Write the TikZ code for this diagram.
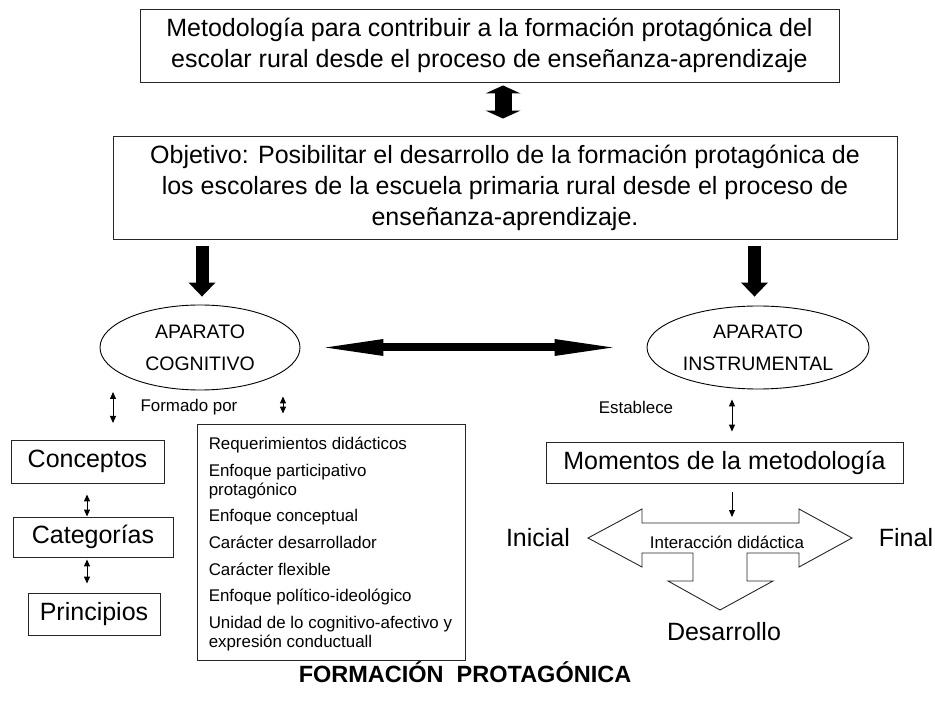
\documentclass[tikz,border=0pt]{standalone}
\usepackage{fontspec}
\setmainfont{Liberation Sans}
\usetikzlibrary{shapes.geometric,arrows.meta,calc}
\tikzset{
  box/.style={draw=black!85, line width=0.9pt, inner sep=0pt, align=center},
  bigtxt/.style={font=\fontsize{25}{31}\selectfont},
  midtxt/.style={font=\fontsize{19.5}{32}\selectfont},
  smalltxt/.style={font=\fontsize{16.9}{19}\selectfont},
  oval/.style={ellipse, draw, line width=0.9pt, inner sep=0pt, minimum width=222pt, minimum height=83pt, align=center, midtxt},
  thinarrow/.style={line width=1pt, {Triangle[width=6pt,length=7pt]}-{Triangle[width=6pt,length=7pt]}},
  thindown/.style={line width=1pt, -{Triangle[width=6pt,length=7pt]}},
  fatdown/.style={line width=13pt, -{Triangle[width=27pt,length=14pt,line width=0pt]}},
  fatboth/.style={line width=17pt, {Triangle[width=35pt,length=8pt,line width=0pt]}-{Triangle[width=35pt,length=8pt,line width=0pt]}},
  longboth/.style={line width=8pt, {Triangle[width=17pt,length=58pt,line width=0pt]}-{Triangle[width=17pt,length=58pt,line width=0pt]}},
}
\begin{document}
\begin{tikzpicture}[x=1pt,y=-1pt]
\useasboundingbox (0,0) rectangle (935,703);

% top boxes
\node[box, bigtxt, minimum width=699pt, minimum height=73pt] (top) at (489.5,45.5)
  {Metodología para contribuir a la formación protagónica del\\escolar rural desde el proceso de enseñanza-aprendizaje};
\node[box, bigtxt, minimum width=784pt, minimum height=103pt] (obj) at (505,187.5)
  {Objetivo: Posibilitar el desarrollo de la formación protagónica de\\los escolares de la escuela primaria rural desde el proceso de\\enseñanza-aprendizaje.};
\draw[fatboth, shorten <=3pt, shorten >=17pt] (top.south -| 503,0) -- (obj.north -| 503,0);

% ellipses
\node[oval, minimum width=200pt, minimum height=85pt] (cog) at (200,347.5) {APARATO\\COGNITIVO};
\node[oval] (ins) at (758,347.5) {APARATO\\INSTRUMENTAL};
\draw[fatdown, shorten <=7pt, shorten >=8pt] (obj.south -| 202,0) -- (cog.north -| 202,0);
\draw[fatdown, shorten <=7pt, shorten >=9pt] (obj.south -| 754.5,0) -- (ins.north -| 754.5,0);
\draw[longboth, shorten <=25pt, shorten >=34pt] (cog.east) -- (ins.west);

% labels
\node[smalltxt] (formado) at (189,407) {Formado por};
\node[smalltxt] (establece) at (636,407) {Establece};

% left column
\node[box, bigtxt, minimum width=153pt, minimum height=43pt] (con) at (87.5,461.5) {Conceptos};
\node[box, bigtxt, minimum width=160pt, minimum height=40pt] (cat) at (93,537) {Categorías};
\node[box, bigtxt, minimum width=132pt, minimum height=42pt] (pri) at (94,614) {Principios};
\coordinate (l1) at (113,392);
\coordinate (l2) at (113,423);
\draw[thinarrow] (l1) -- (l2);
\draw[thinarrow, shorten <=11pt] (con.south -| 87,0) -- (cat.north -| 87,0);
\draw[thinarrow, shorten <=2pt, shorten >=9pt] (cat.south -| 87,0) -- (pri.north -| 87,0);

% features box
\node[draw=black!85, line width=0.9pt, minimum width=268pt, minimum height=236pt, inner sep=0pt] (feat) at (331,542) {};
\node[smalltxt, align=left, anchor=west, inner sep=0pt] (feattxt) at ([xshift=12pt,yshift=-2pt]feat.west)
  {Requerimientos didácticos\\[7.7pt]
   Enfoque participativo\\ protagónico\\[7.7pt]
   Enfoque conceptual\\[7.7pt]
   Carácter desarrollador\\[7.7pt]
   Carácter flexible\\[7.7pt]
   Enfoque político-ideológico\\[7.7pt]
   Unidad de lo cognitivo-afectivo y\\ expresión conductuall};
\draw[thinarrow, shorten <=6pt, shorten >=10pt] (cog.south -| 283,0) -- (feat.north -| 283,0);

% right column
\node[box, bigtxt, minimum width=357pt, minimum height=41pt] (mom) at (724.5,462.5) {Momentos de la metodología};
\draw[thinarrow, shorten <=10pt, shorten >=10pt] (ins.south -| 732,0) -- (mom.north -| 732,0);
\coordinate (ia) at (732,523);
\draw[thindown, shorten <=9pt, shorten >=6pt] (mom.south -| 732,0) -- (ia);

% interaction shape
\draw[line width=0.9pt, draw=black!85]
  (588,538) -- (642,509) -- (642,523) -- (799,523) -- (799,509) -- (852,538)
  -- (799,567) -- (799,553) -- (747,553) -- (747,581) -- (773,581) -- (720,610)
  -- (668,581) -- (693,581) -- (693,553) -- (642,553) -- (642,567) -- cycle;
\node[smalltxt] (inter) at (727,542) {Interacción didáctica};
\node[bigtxt] (ini) at (538,538) {Inicial};
\node[bigtxt] (fin) at (906,538) {Final};
\node[bigtxt] (des) at (724,632) {Desarrollo};

\node[font=\fontsize{23.5}{28}\selectfont\bfseries] (title) at (465,672) {FORMACIÓN\ \ PROTAGÓNICA};
\end{tikzpicture}
\end{document}
